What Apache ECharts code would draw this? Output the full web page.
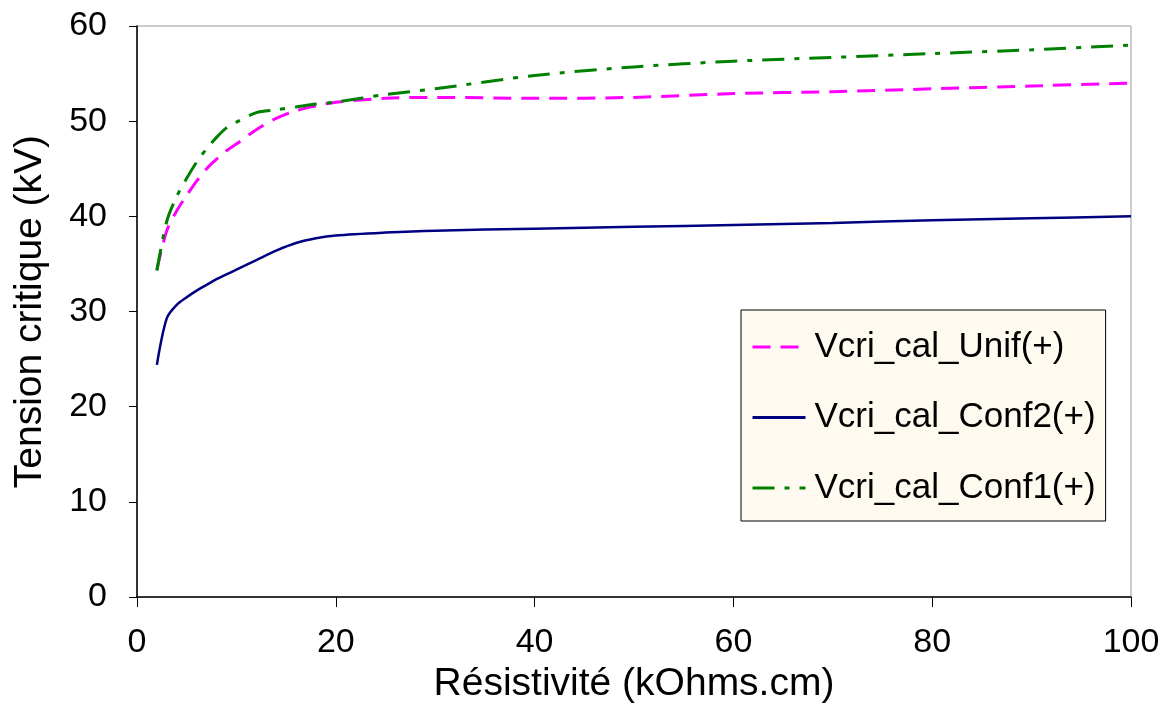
<!DOCTYPE html>
<html>
<head>
<meta charset="utf-8">
<script src="https://cdn.jsdelivr.net/npm/echarts@6/dist/echarts.min.js"></script>
<style>
  html, body { margin: 0; padding: 0; background: #fff; }
  #chart { width: 1169px; height: 709px; }
</style>
</head>
<body>
<div id="chart"></div>
<script>
// Résistivité (kOhms.cm)
const resistivity = [2, 3, 4, 5, 6, 7, 8, 9, 10, 12, 14, 16, 18, 20, 25, 30, 40, 50, 60, 70, 80, 90, 100];
// Tension critique (kV)
const unif = [34.4, 38.5, 40.6, 42.2, 43.7, 45.0, 46.0, 46.9, 47.6, 49.1, 50.3, 51.1, 51.6, 52.0, 52.4, 52.5, 52.4, 52.5, 52.9, 53.1, 53.4, 53.7, 54.0];
const conf2 = [24.4, 29.3, 30.7, 31.5, 32.2, 32.8, 33.4, 33.9, 34.4, 35.4, 36.4, 37.2, 37.7, 38.0, 38.3, 38.5, 38.7, 38.9, 39.1, 39.3, 39.6, 39.8, 40.0];
const conf1 = [34.3, 39.5, 42.1, 44.0, 45.7, 47.1, 48.3, 49.3, 49.9, 50.9, 51.2, 51.5, 51.8, 52.0, 52.8, 53.4, 54.8, 55.7, 56.3, 56.7, 57.1, 57.5, 58.0];

const seriesNames = ['Vcri_cal_Unif(+)', 'Vcri_cal_Conf2(+)', 'Vcri_cal_Conf1(+)'];

const font = "'Liberation Sans', Arial, sans-serif";
const pairs = (ys) => resistivity.map((x, i) => [x, ys[i]]);

const chart = echarts.init(document.getElementById('chart'));

chart.setOption({
  animation: false,
  textStyle: { fontFamily: font },
  grid: {
    left: 137, right: 38, top: 26, bottom: 111,
    show: true, borderColor: '#999', borderWidth: 1, backgroundColor: 'transparent'
  },
  legend: {
    orient: 'vertical',
    left: 741, top: 310,
    padding: [19, 10, 15, 10],
    backgroundColor: '#fffaf0',
    borderColor: '#000', borderWidth: 1,
    itemWidth: 53, itemHeight: 14, itemGap: 34.5,
    itemStyle: { opacity: 0 },
    lineStyle: { width: 3 },
    textStyle: { fontSize: 35, lineHeight: 36, color: '#000', fontFamily: font, padding: [0, 0, 0, 4] },
    data: seriesNames
  },
  xAxis: {
    type: 'value',
    min: 0, max: 100, interval: 20,
    name: 'Résistivité (kOhms.cm)',
    nameLocation: 'middle', nameGap: 61,
    nameTextStyle: { fontSize: 39, color: '#000', fontFamily: font },
    axisLine: { lineStyle: { color: '#000', width: 1.5 } },
    axisTick: { length: 10, lineStyle: { color: '#000' } },
    axisLabel: { fontSize: 34, color: '#000', margin: 29, fontFamily: font },
    splitLine: { show: false }
  },
  yAxis: {
    type: 'value',
    min: 0, max: 60, interval: 10,
    name: 'Tension critique (kV)',
    nameLocation: 'middle', nameGap: 87,
    nameTextStyle: { fontSize: 39, color: '#000', fontFamily: font },
    axisLine: { show: true, lineStyle: { color: '#000', width: 1.5 } },
    axisTick: { show: true, length: 8, lineStyle: { color: '#000' } },
    axisLabel: { fontSize: 34, color: '#000', margin: 30, fontFamily: font },
    splitLine: { show: false }
  },
  series: [
    {
      name: seriesNames[0], type: 'line', data: pairs(unif),
      symbol: 'none', smooth: 0.3,
      lineStyle: { color: '#ff00ff', width: 3, type: [18, 10] },
      itemStyle: { color: '#ff00ff' }
    },
    {
      name: seriesNames[1], type: 'line', data: pairs(conf2),
      symbol: 'none', smooth: 0.3,
      lineStyle: { color: '#000080', width: 2.5, type: 'solid' },
      itemStyle: { color: '#000080' }
    },
    {
      name: seriesNames[2], type: 'line', data: pairs(conf1),
      symbol: 'none', smooth: 0.3,
      lineStyle: { color: '#008000', width: 3, type: [22, 10, 5, 10] },
      itemStyle: { color: '#008000' }
    }
  ]
});
</script>
</body>
</html>
